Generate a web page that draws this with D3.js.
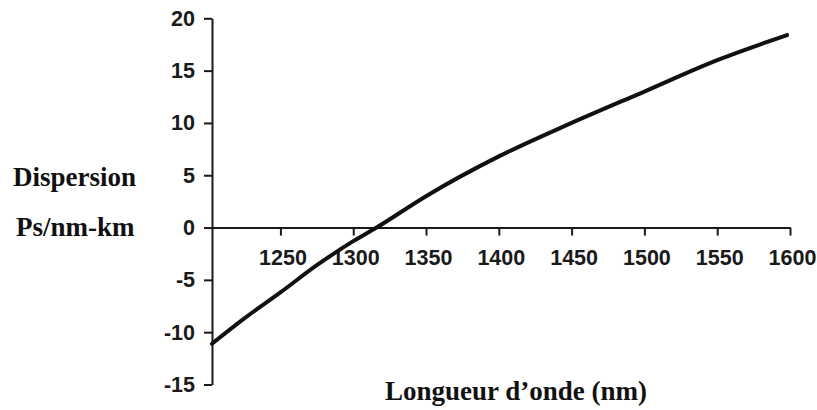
<!DOCTYPE html>
<html>
<head>
<meta charset="utf-8">
<script src="https://d3js.org/d3.v7.min.js"></script>
<style>
	body { margin: 0; background: #ffffff; }
	.tick text { font-family: "Liberation Sans", Arial, sans-serif; font-weight: bold; font-size: 21.5px; fill: #1a1a1a; }
	.tick line, .domain { stroke: #1a1a1a; stroke-width: 2px; }
	.axis-title { font-family: "Liberation Serif", "Times New Roman", serif; font-weight: bold; font-size: 27px; fill: #111; }
</style>
</head>
<body>
<div id="chart"></div>
<script>

////////////////////////////////////////////////////////////
//////////////////////// Data //////////////////////////////
////////////////////////////////////////////////////////////

//Wavelength (nm) and chromatic dispersion (ps/nm-km)
var wavelengths = [1203, 1225, 1250, 1275, 1300, 1316, 1350, 1400, 1450, 1500, 1550, 1598];
var dispersion  = [-11.1, -8.7, -6.2, -3.6, -1.3, 0, 3.0, 6.8, 10.0, 13.0, 16.0, 18.4];

var xTicks = [1250, 1300, 1350, 1400, 1450, 1500, 1550, 1600];
var yTicks = [-15, -10, -5, 0, 5, 10, 15, 20];

var yTitle = ["Dispersion", "Ps/nm-km"];
var xTitle = "Longueur d\u2019onde (nm)";

////////////////////////////////////////////////////////////
//////////////////////// Setup /////////////////////////////
////////////////////////////////////////////////////////////

var width = 817,
	height = 410;

var svg = d3.select("#chart").append("svg")
	.attr("width", width)
	.attr("height", height);

var x = d3.scaleLinear()
	.domain([1203, 1600])
	.range([212, 790]);

var y = d3.scaleLinear()
	.domain([-15, 20])
	.range([384.5, 18.3]);

//plain hyphen for negatives, like the scanned figure
var fmt = function(d) { return String(d); };

////////////////////////////////////////////////////////////
//////////////////////// Axes //////////////////////////////
////////////////////////////////////////////////////////////

//Horizontal axis sits on the zero line
svg.append("g")
	.attr("transform", "translate(0," + y(0) + ")")
	.call(d3.axisBottom(x)
		.tickValues(xTicks)
		.tickSize(8)
		.tickSizeOuter(0)
		.tickPadding(14)
		.tickFormat(fmt))
	.selectAll(".tick text")
	.attr("dx", 2);

svg.append("g")
	.attr("transform", "translate(" + x(1203) + ",0)")
	.call(d3.axisLeft(y)
		.tickValues(yTicks)
		.tickSize(8)
		.tickSizeOuter(0)
		.tickPadding(9)
		.tickFormat(fmt));

////////////////////////////////////////////////////////////
//////////////////////// Curve /////////////////////////////
////////////////////////////////////////////////////////////

var points = wavelengths.map(function(d,i) { return [d, dispersion[i]]; });

var line = d3.line()
	.x(function(d) { return x(d[0]); })
	.y(function(d) { return y(d[1]); })
	.curve(d3.curveMonotoneX);

svg.append("path")
	.datum(points)
	.attr("d", line)
	.style("fill", "none")
	.style("stroke", "#111")
	.style("stroke-width", 4)
	.style("stroke-linecap", "round");

////////////////////////////////////////////////////////////
//////////////////////// Titles ////////////////////////////
////////////////////////////////////////////////////////////

svg.selectAll(".y-title")
	.data(yTitle)
	.enter().append("text")
	.attr("class", "axis-title")
	.attr("x", function(d,i) { return i === 0 ? 13 : 16; })
	.attr("y", function(d,i) { return i === 0 ? 186 : 236; })
	.text(function(d) { return d; });

svg.append("text")
	.attr("class", "axis-title")
	.attr("x", 385)
	.attr("y", 400)
	.text(xTitle);

</script>
</body>
</html>
